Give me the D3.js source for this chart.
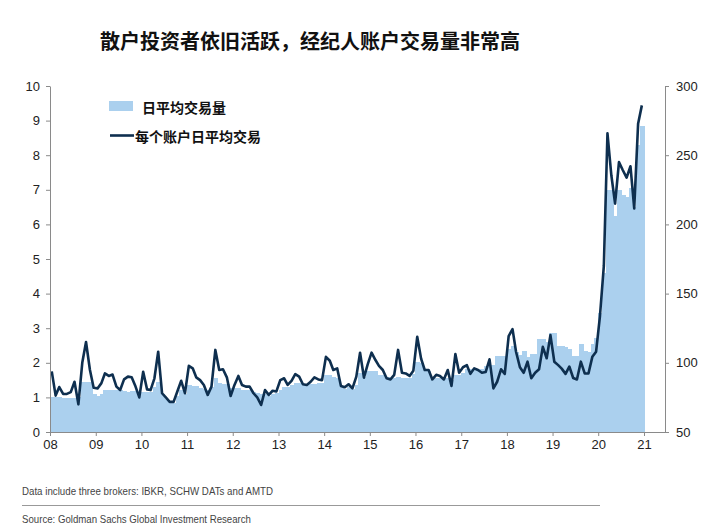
<!DOCTYPE html>
<html>
<head>
<meta charset="utf-8">
<script src="https://cdn.jsdelivr.net/npm/d3@7"></script>
<style>
  html, body { margin: 0; padding: 0; background: #fff; }
  svg { display: block; }
  .num { font-family: "Liberation Sans Narrow", "Arial Narrow", "Liberation Sans", Arial, sans-serif; }
</style>
</head>
<body>
<svg id="chart" width="716" height="529"></svg>
<script>
// ---------------- data ----------------
const startYear = 2008;
const yearLabels = ["08","09","10","11","12","13","14","15","16","17","18","19","20","21"];
const leftTicks = [0,1,2,3,4,5,6,7,8,9,10];
const rightTicks = [50,100,150,200,250,300];

// 日平均交易量 (left axis), monthly Jan 2008 – Dec 2020
const dailyTrades = [
  1.0,1.0,1.0,0.98,0.98,0.98,0.98,1.0,1.45,1.45,1.45,1.1,
  1.05,1.1,1.2,1.2,1.22,1.22,1.2,1.18,1.15,1.18,1.18,1.15,
  1.15,1.15,1.15,1.3,1.45,1.1,0.95,0.85,0.85,1.05,1.2,1.1,
  1.36,1.34,1.32,1.28,1.24,1.2,1.3,1.55,1.42,1.4,1.38,1.26,
  1.26,1.26,1.22,1.21,1.21,1.15,1.12,1.1,1.1,1.05,1.1,1.12,
  1.2,1.3,1.3,1.35,1.42,1.42,1.36,1.36,1.38,1.4,1.42,1.42,
  1.65,1.65,1.6,1.55,1.32,1.25,1.3,1.25,1.35,1.7,1.6,1.76,
  1.77,1.77,1.65,1.65,1.6,1.55,1.55,1.6,1.57,1.57,1.57,1.69,
  2.03,2.0,1.79,1.75,1.57,1.57,1.57,1.57,1.57,1.5,1.66,1.66,
  1.7,1.81,1.81,1.81,1.81,1.81,1.9,1.95,1.95,2.19,2.19,2.19,
  2.4,2.5,2.3,2.22,2.35,2.17,2.25,2.25,2.68,2.68,2.6,2.85,
  2.87,2.5,2.48,2.45,2.39,2.2,2.2,2.53,2.34,2.3,2.55,2.72,
  3.45,4.6,7.0,7.0,6.24,7.0,6.85,6.8,7.05,6.5,8.3,8.83
];

// 每个账户日平均交易 (right axis), monthly Jan 2008 – Dec 2020
const tradesPerAccount = [
  93.8,76.3,82.5,77.5,77.5,78.8,86.3,70,100,115,95,82,
  81.5,85.3,92.3,90.5,91.5,82.8,80.3,88,90,89.5,82.8,75,
  93.5,80.8,80.3,88.8,108,78,75,71.8,71.8,79.3,87,78,
  97.8,96,89.5,87.5,84,76.8,82.8,109.3,94.8,95.3,89.5,76,
  84,90.5,84,82.8,82.8,78,75,69.5,80.3,76.8,79.8,79.3,
  87.5,88.8,84,87,91.8,90,84.5,84,86.3,89.5,88,87.5,
  104.3,101.5,94.8,96,83.3,82.3,84.5,81.5,90,107.3,89.3,98.8,
  107.3,102,97.8,94.8,88.8,88,91.3,109.3,92.8,92.3,90.5,94.3,
  118.8,103,94.8,94.8,88,91.3,90.5,88,94.8,83.3,106.3,92.8,
  96.8,98.3,92,96,94.8,92.8,93.3,102.5,81.5,86.3,95.3,92,
  119.3,124.3,108,96.8,92.8,100.8,88.8,92.8,95.3,111.5,103.3,120,
  100.8,98.3,95.8,92,97.3,89,88,100.8,92.3,92.3,104.3,108,
  133.8,170,265.8,235.5,215,245,239.3,233.8,242,211.5,272.8,286
];

const titleText = "散户投资者依旧活跃，经纪人账户交易量非常高";
const legendBar = "日平均交易量";
const legendLine = "每个账户日平均交易";
const note1 = "Data include three brokers: IBKR, SCHW DATs and AMTD";
const note2 = "Source: Goldman Sachs Global Investment Research";

// month categories
const months = dailyTrades.map((_, i) => new Date(startYear + Math.floor(i / 12), i % 12, 1));

// ---------------- chart ----------------
const svg = d3.select("#chart");
const barColor = "#abd0ee";
const lineColor = "#0e2f4f";
const axisColor = "#8a8a8a";

const x = d3.scaleTime()
  .domain([new Date(2008, 0, 1), new Date(2021, 5, 18)])
  .range([50, 665]);
const yL = d3.scaleLinear().domain([0, 10]).range([432, 86]);
const yR = d3.scaleLinear().domain([50, 300]).range([432, 86]);

// bars
svg.append("g")
  .attr("shape-rendering", "crispEdges")
  .selectAll("rect")
  .data(dailyTrades)
  .join("rect")
  .attr("x", (d, i) => x(months[i]))
  .attr("width", (d, i) => x(new Date(months[i].getFullYear(), months[i].getMonth() + 1, 1)) - x(months[i]) + 0.8)
  .attr("y", d => yL(d))
  .attr("height", d => yL(0) - yL(d))
  .attr("fill", barColor);

// line
const line = d3.line()
  .x((d, i) => x(new Date(months[i].getFullYear(), months[i].getMonth(), 15)))
  .y(d => yR(d));
svg.append("path")
  .datum(tradesPerAccount)
  .attr("d", line)
  .attr("fill", "none")
  .attr("stroke", lineColor)
  .attr("stroke-width", 2.6)
  .attr("stroke-linejoin", "round");

// axes
function styleAxis(g) {
  g.selectAll("path, line").attr("stroke", axisColor).attr("stroke-width", 1);
  g.selectAll("text").attr("class", "num").attr("font-size", 13).attr("fill", "#222");
}
svg.append("g")
  .attr("transform", "translate(50,0)")
  .call(d3.axisLeft(yL).tickValues(leftTicks).tickSize(4).tickSizeOuter(0).tickPadding(6))
  .call(styleAxis);
svg.append("g")
  .attr("transform", "translate(665,0)")
  .call(d3.axisRight(yR).tickValues(rightTicks).tickSize(4).tickSizeOuter(0).tickPadding(7))
  .call(styleAxis);
const yearDates = yearLabels.map((_, i) => new Date(startYear + i, 0, 1));
svg.append("g")
  .attr("transform", "translate(0,432)")
  .call(d3.axisBottom(x).tickValues(yearDates).tickFormat((d, i) => yearLabels[i]).tickSize(4).tickSizeOuter(0).tickPadding(4))
  .call(styleAxis);

// title
svg.append("text")
  .attr("x", 100).attr("y", 49)
  .attr("font-family", "'Noto Sans CJK SC', sans-serif")
  .attr("font-weight", 700)
  .attr("font-size", 20)
  .attr("fill", "#111")
  .text(titleText);

// legend
svg.append("rect").attr("x", 109).attr("y", 101).attr("width", 24).attr("height", 10).attr("fill", barColor);
svg.append("text")
  .attr("x", 142).attr("y", 106.5).attr("dominant-baseline", "central")
  .attr("font-family", "'Noto Sans CJK SC', sans-serif").attr("font-weight", 700).attr("font-size", 14)
  .attr("fill", "#111").text(legendBar);
svg.append("line").attr("x1", 110).attr("x2", 134).attr("y1", 135.5).attr("y2", 135.5)
  .attr("stroke", lineColor).attr("stroke-width", 2.6);
svg.append("text")
  .attr("x", 135).attr("y", 135.5).attr("dominant-baseline", "central")
  .attr("font-family", "'Noto Sans CJK SC', sans-serif").attr("font-weight", 700).attr("font-size", 14)
  .attr("fill", "#111").text(legendLine);

// notes
svg.append("text").attr("class", "num")
  .attr("x", 22).attr("y", 495).attr("font-size", 11.5).attr("fill", "#444")
  .attr("textLength", 251).attr("lengthAdjust", "spacingAndGlyphs").text(note1);
svg.append("line").attr("x1", 22).attr("x2", 600).attr("y1", 505.5).attr("y2", 505.5)
  .attr("stroke", "#999").attr("stroke-width", 1);
svg.append("text").attr("class", "num")
  .attr("x", 22).attr("y", 523).attr("font-size", 11.5).attr("fill", "#444")
  .attr("textLength", 229).attr("lengthAdjust", "spacingAndGlyphs").text(note2);
</script>
</body>
</html>
